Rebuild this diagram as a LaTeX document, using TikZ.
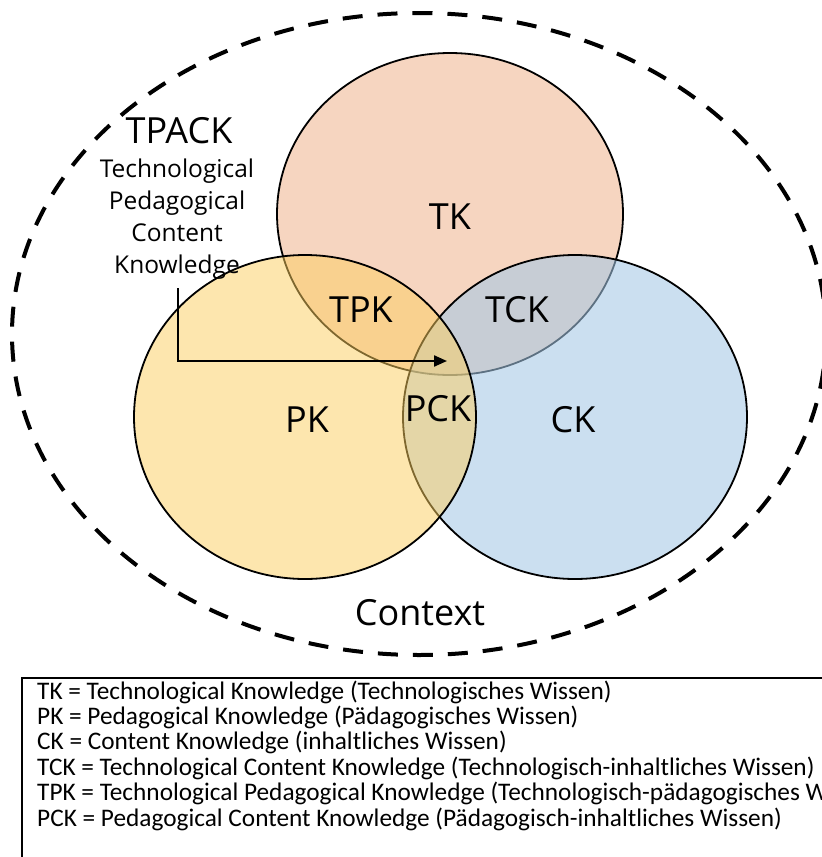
\documentclass[tikz,border=0pt]{standalone}
\usepackage{fontspec}
\setmainfont{Open Sans}
\newfontfamily\legendfont{Carlito}
\usetikzlibrary{arrows.meta}
\definecolor{tkfill}{RGB}{246,213,192}
\definecolor{ckfill}{RGB}{165,199,229}
\definecolor{pkfill}{RGB}{253,207,95}
\begin{document}
\begin{tikzpicture}[x=1pt,y=-1pt,
  setfill/.style={draw=black,line width=1.8pt},
  biglabel/.style={font=\fontsize{36}{40}\selectfont,inner sep=0pt},
  legline/.style={anchor=base west,inner sep=0pt,font=\legendfont\fontsize{25.3}{28}\selectfont},
  ctxline/.style={draw=black,line width=4pt,dash pattern=on 20pt off 15pt}]
\useasboundingbox (0,0) rectangle (822,857);
\clip (0,0) rectangle (822,857);
\fill[white] (0,0) rectangle (822,857);
% context
\draw[ctxline] (419,334) ellipse [x radius=407, y radius=321];
% circles
\path[setfill,fill=tkfill] (450,214) ellipse [x radius=173, y radius=161];
\path[setfill,fill=ckfill,fill opacity=0.57] (575,417) ellipse [x radius=172, y radius=162];
\path[setfill,fill=pkfill,fill opacity=0.5] (305,417) ellipse [x radius=171, y radius=162];
% labels
\node[biglabel] (tk) at (450,217) {TK};
\node[biglabel] (tpk) at (361,310) {TPK};
\node[biglabel] (tck) at (517,310) {TCK};
\node[biglabel] (pk) at (307,420) {PK};
\node[biglabel] (pck) at (438,409) {PCK};
\node[biglabel] (ck) at (573,420) {CK};
\node[biglabel] (context) at (420,613) {Context};
\node[biglabel] (tpack) at (179,131) {TPACK};
\node[font=\fontsize{24.5}{32}\selectfont,align=center,inner sep=0pt] (tpackfull) at (177,219)
  {Technological\\Pedagogical\\Content\\Knowledge};
% arrow
\coordinate (arrowstart) at (178,288);
\coordinate (arrowend) at (447,361);
\draw[line width=2.2pt,-{Triangle[length=13pt,width=11pt]}] (arrowstart) |- (arrowend);
% legend
\draw[line width=2pt] (22,678) rectangle (860,900);
\node[legline] (leg1) at (37,699) {TK = Technological Knowledge (Technologisches Wissen)};
\node[legline] (leg2) at (37,724.4) {PK = Pedagogical Knowledge (Pädagogisches Wissen)};
\node[legline] (leg3) at (37,749.8) {CK = Content Knowledge (inhaltliches Wissen)};
\node[legline] (leg4) at (37,775.2) {TCK = Technological Content Knowledge (Technologisch-inhaltliches Wissen)};
\node[legline] (leg5) at (37,800.6) {TPK = Technological Pedagogical Knowledge (Technologisch-pädagogisches Wissen)};
\node[legline] (leg6) at (37,826) {PCK = Pedagogical Content Knowledge (Pädagogisch-inhaltliches Wissen)};
\end{tikzpicture}
\end{document}
